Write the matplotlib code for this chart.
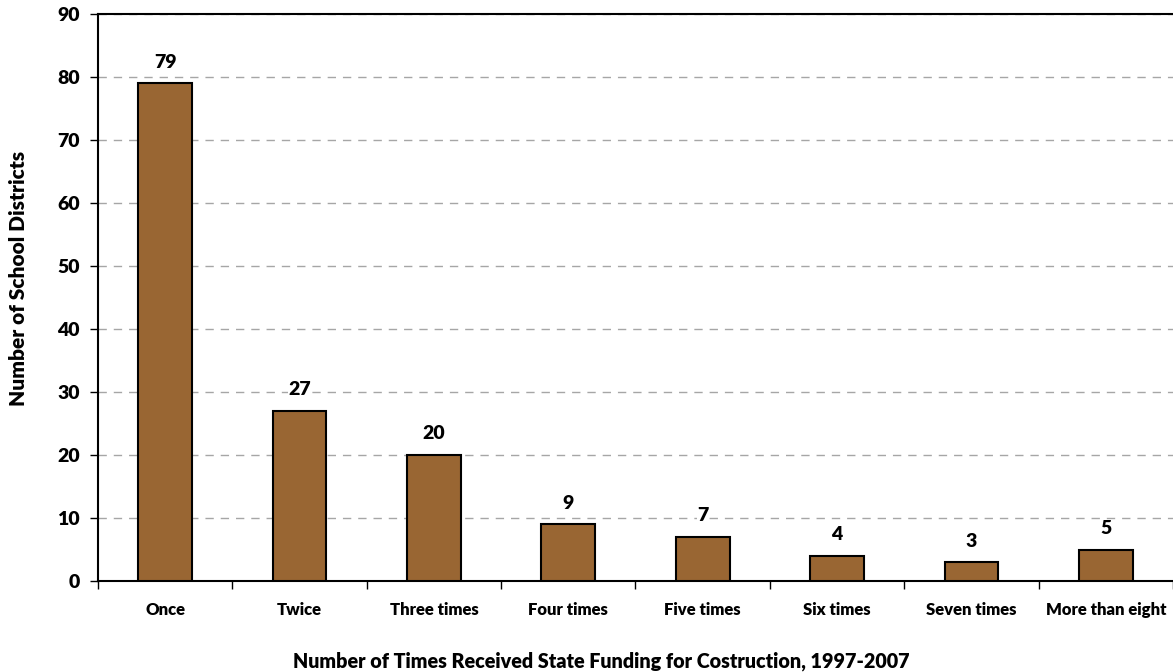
import matplotlib.pyplot as plt
import numpy as np

categories = ["Once", "Twice", "Three times", "Four times", "Five times",
              "Six times", "Seven times", "More than eight"]
districts = [79, 27, 20, 9, 7, 4, 3, 5]

plt.rcParams['font.family'] = ['Lato', 'DejaVu Sans']
plt.rcParams['font.weight'] = 'bold'

fig = plt.figure(figsize=(11.73, 6.72), dpi=100)
ax = fig.add_axes([0.0835, 0.1354, 0.9165, 0.8437])

x = np.arange(len(categories))
ax.bar(x, districts, width=0.40, color='#996633', edgecolor='black',
       linewidth=1.5, zorder=3)

for xi, v in zip(x, districts):
    ax.text(xi, v + 2.0, str(v), ha='center', va='bottom', fontsize=14,
            fontweight='heavy', zorder=4,
            bbox=dict(facecolor='white', edgecolor='none', pad=0.3))

ax.set_xlim(-0.5, len(categories) - 0.5)
ax.set_ylim(0, 90)
ax.set_yticks(range(0, 91, 10))
ax.set_xticks(x)
ax.set_xticklabels(categories, fontsize=12, fontweight='heavy')
ax.set_xticks(np.arange(-0.5, len(categories)), minor=True)
ax.tick_params(axis='x', which='major', length=0, pad=15)
ax.tick_params(axis='x', which='minor', length=6, width=1, direction='out')
ax.tick_params(axis='y', length=6, width=1, direction='out', labelsize=14, pad=7)
for lbl in ax.get_yticklabels():
    lbl.set_fontweight('heavy')

ax.yaxis.grid(True, color='#a6a6a6', linewidth=1, linestyle=(0, (6, 5)), zorder=0)
ax.set_axisbelow(True)

ax.spines['right'].set_visible(False)
for s in ['left', 'bottom', 'top']:
    ax.spines[s].set_linewidth(1.5)

ax.set_ylabel("Number of School Districts", fontsize=15, fontweight='heavy',
              va='center')
ax.yaxis.set_label_coords(-0.0735, 0.533)
ax.set_xlabel("Number of Times Received State Funding for Costruction, 1997-2007",
              fontsize=14.2, fontweight='heavy', va='center')
ax.xaxis.set_label_coords(0.468, -0.141)

fig.savefig("out.png", dpi=100)
